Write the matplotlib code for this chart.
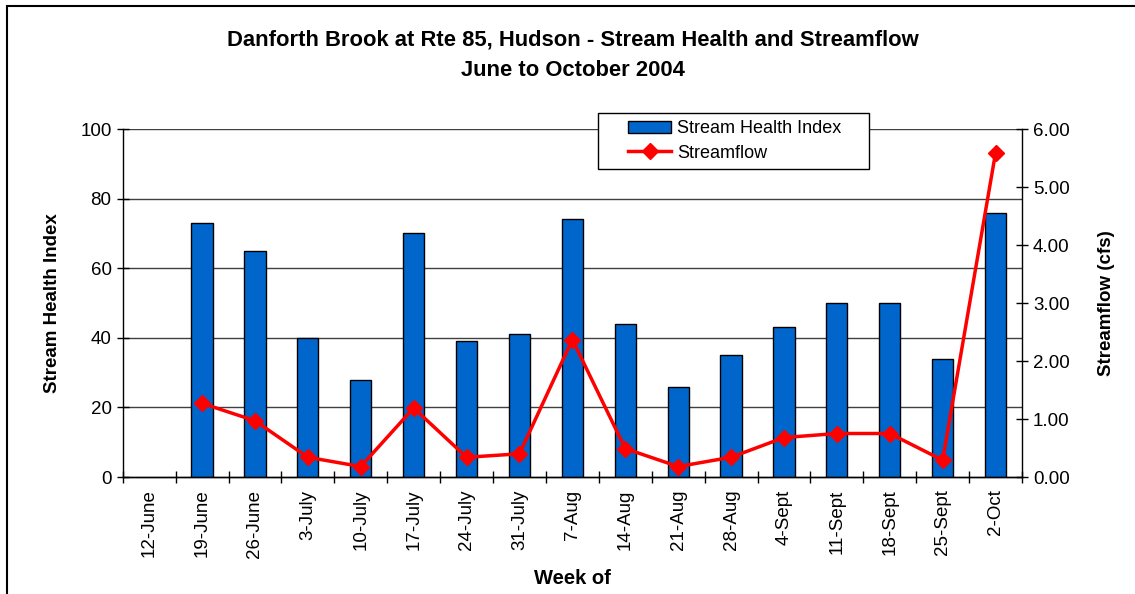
import matplotlib
matplotlib.use("Agg")
import matplotlib.pyplot as plt
from matplotlib.patches import Rectangle

plt.rcParams['font.family'] = ['Liberation Sans', 'DejaVu Sans']

# weekly samples
weeks = ['12-June', '19-June', '26-June', '3-July', '10-July', '17-July',
         '24-July', '31-July', '7-Aug', '14-Aug', '21-Aug', '28-Aug',
         '4-Sept', '11-Sept', '18-Sept', '25-Sept', '2-Oct']
health_index = [None, 73, 65, 40, 28, 70, 39, 41, 74, 44, 26, 35, 43, 50, 50, 34, 76]
streamflow = [None, 1.27, 0.97, 0.34, 0.18, 1.19, 0.34, 0.40, 2.37, 0.49,
              0.18, 0.34, 0.68, 0.75, 0.75, 0.29, 5.59]
left_ticks = [0, 20, 40, 60, 80, 100]
right_ticks = [0, 1, 2, 3, 4, 5, 6]

W, H = 1135, 594
fig = plt.figure(figsize=(W / 100, H / 100), dpi=100)
ax = fig.add_axes([122.7 / W, 1 - 477 / H, (1022 - 122.7) / W, (477 - 129) / H])
ax2 = ax.twinx()

x = list(range(len(weeks)))

# bars for stream health
bx = [i for i, v in zip(x, health_index) if v is not None]
bv = [v for v in health_index if v is not None]
bars = ax.bar(bx, bv, width=0.4, color='#0066CC', edgecolor='black',
              linewidth=1, zorder=3, label='Stream Health Index')

# grid lines on left axis
for t in left_ticks[1:]:
    ax.axhline(t, color='#404040', linewidth=1, zorder=1)

# streamflow line on right axis
lx = [i for i, v in zip(x, streamflow) if v is not None]
lv = [v for v in streamflow if v is not None]
line, = ax2.plot(lx, lv, color='#FF0000', linewidth=2.5, marker='D',
                 markersize=8, zorder=4, label='Streamflow')

ax.set_xlim(-0.5, len(weeks) - 0.5)
ax.set_ylim(0, 100)
ax2.set_ylim(0, 6)
ax.set_yticks(left_ticks)
ax.set_yticklabels([str(t) for t in left_ticks], fontsize=13.5)
ax2.set_yticks(right_ticks)
ax2.set_yticklabels([f'{t:.2f}' for t in right_ticks], fontsize=13.5)

# category ticks sit between bars, labels centred under each week
ax.set_xticks([i - 0.5 for i in range(len(weeks) + 1)], minor=False)
ax.set_xticklabels([])
ax.set_xticks(x, minor=True)
ax.set_xticklabels(weeks, minor=True, rotation=90, fontsize=13.5)
ax.tick_params(axis='x', which='minor', length=0, pad=9)
ax.tick_params(axis='x', which='major', direction='inout', length=8, width=1)
ax.tick_params(axis='y', direction='inout', length=8, width=1, pad=4)
ax2.tick_params(axis='y', direction='inout', length=8, width=1, pad=4)

for a in (ax, ax2):
    a.spines['top'].set_visible(False)
    for s in ('left', 'right', 'bottom'):
        a.spines[s].set_linewidth(1)
ax.spines['right'].set_visible(False)
ax2.spines['left'].set_visible(False)

ax.set_ylabel('Stream Health Index', fontsize=13.5, fontweight='bold', labelpad=14)
ax2.set_ylabel('Streamflow (cfs)', fontsize=13.5, fontweight='bold', labelpad=20)
ax.set_xlabel('Week of', fontsize=14.5, fontweight='bold', labelpad=8)

fig.text(573 / W, 1 - 40 / H, 'Danforth Brook at Rte 85, Hudson - Stream Health and Streamflow',
         ha='center', va='center', fontsize=15.8, fontweight='bold')
fig.text(573 / W, 1 - 70 / H, 'June to October 2004',
         ha='center', va='center', fontsize=15.8, fontweight='bold')

# legend box drawn separately so it can have wide side margins
fig.add_artist(Rectangle((598 / W, 1 - 169 / H), (869 - 598) / W, 56 / H,
                         transform=fig.transFigure, facecolor='white',
                         edgecolor='black', linewidth=1, zorder=9))
leg = fig.legend([bars, line], ['Stream Health Index', 'Streamflow'],
                 loc='center left', bbox_to_anchor=(628 / W, 1 - 141 / H),
                 borderaxespad=0, borderpad=0, fontsize=13, frameon=False,
                 labelspacing=0.4, handlelength=2.4, handletextpad=0.3)
leg.set_zorder(10)

# outer chart border
fig.add_artist(Rectangle((7 / W, -0.1), 1.2, 1 - 6 / H + 0.1,
                         transform=fig.transFigure, fill=False,
                         edgecolor='black', linewidth=1.5))

fig.savefig('out.png', dpi=100, facecolor='white')
